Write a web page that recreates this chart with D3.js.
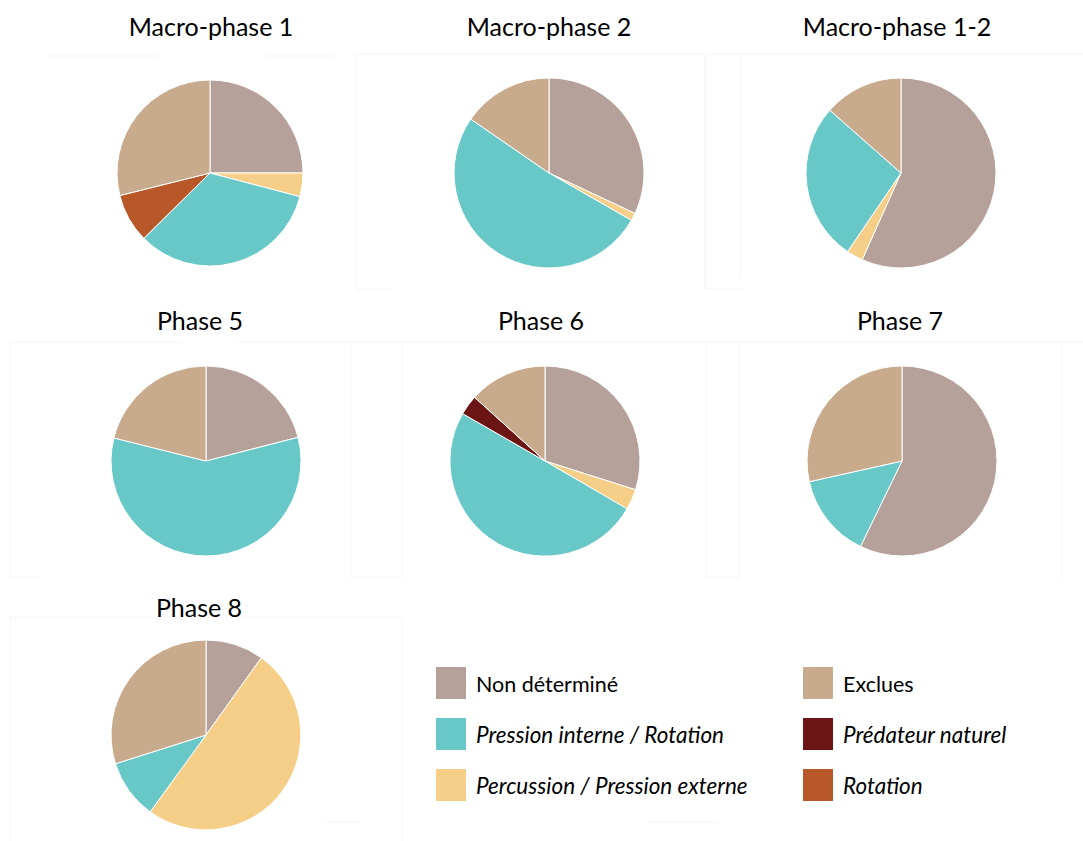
<!DOCTYPE html>
<html>
<head>
<meta charset="utf-8">
<script src="https://cdn.jsdelivr.net/npm/d3@7"></script>
<style>
  html, body { margin: 0; padding: 0; background: #ffffff; }
  svg { display: block; }
</style>
</head>
<body>
<svg id="chart" width="1083" height="841"></svg>
<script>
// ---- Data ----
const categories = ["Non déterminé", "Percussion / Pression externe", "Pression interne / Rotation", "Rotation", "Prédateur naturel", "Exclues"];
const colors = ["#b5a09a", "#f5cf87", "#68c8c8", "#b85828", "#6b1515", "#c8ab8c"];
const chartTitles = ["Macro-phase 1", "Macro-phase 2", "Macro-phase 1-2", "Phase 5", "Phase 6", "Phase 7", "Phase 8"];
// values (%) in category order
const macro1  = [25.0, 4.1, 33.5, 8.5, 0.0, 28.9];
const macro2  = [32.0, 1.3, 51.3, 0.0, 0.0, 15.4];
const macro12 = [56.7, 2.8, 27.0, 0.0, 0.0, 13.5];
const phase5  = [21.0, 0.0, 57.9, 0.0, 0.0, 21.1];
const phase6  = [29.9, 3.5, 49.9, 0.0, 3.4, 13.3];
const phase7  = [57.2, 0.0, 14.3, 0.0, 0.0, 28.5];
const phase8  = [9.9, 50.1, 10.1, 0.0, 0.0, 29.9];
const seriesValues = [macro1, macro2, macro12, phase5, phase6, phase7, phase8];
// legend order (two columns)
const legendLeft  = ["Non déterminé", "Pression interne / Rotation", "Percussion / Pression externe"];
const legendRight = ["Exclues", "Prédateur naturel", "Rotation"];
const italicLabels = ["Pression interne / Rotation", "Percussion / Pression externe", "Prédateur naturel", "Rotation"];

// ---- Layout ----
const layout = [
  {cx: 210, cy: 173, r: 93,  tx: 211, ty: 36},
  {cx: 549, cy: 173, r: 95,  tx: 549, ty: 36},
  {cx: 901, cy: 173, r: 95,  tx: 897, ty: 36},
  {cx: 206, cy: 461, r: 95,  tx: 200, ty: 330},
  {cx: 545, cy: 461, r: 95,  tx: 541, ty: 330},
  {cx: 902, cy: 461, r: 95,  tx: 900, ty: 330},
  {cx: 206, cy: 735, r: 95,  tx: 199, ty: 617}
];

const svg = d3.select("#chart");
const color = d3.scaleOrdinal().domain(categories).range(colors);
const fontFamily = "Lato, 'Open Sans', sans-serif";

// faint frame lines (artifacts in the original)
const frames = [
  [47, 56, 158, 56], [265, 56, 335, 56], [356, 54, 705, 54], [356, 54, 356, 289], [356, 289, 389, 289],
  [705, 54, 705, 289], [706, 54, 1083, 54], [706, 54, 706, 289], [741, 54, 741, 277], [706, 289, 741, 289],
  [10, 342, 182, 342], [238, 342, 1083, 342], [10, 342, 10, 577], [10, 577, 40, 577], [351, 342, 351, 577],
  [351, 577, 402, 577], [402, 342, 402, 577], [706, 342, 706, 577], [739, 342, 739, 577], [706, 577, 739, 577], [1062, 342, 1062, 577],
  [10, 617, 402, 617], [10, 617, 10, 841], [402, 617, 402, 841], [325, 822, 360, 822], [648, 822, 718, 822]
];
svg.append("g").selectAll("line").data(frames).join("line")
  .attr("x1", d => d[0]).attr("y1", d => d[1]).attr("x2", d => d[2]).attr("y2", d => d[3])
  .attr("stroke", "#f5f5f5").attr("stroke-width", 1);

const pie = d3.pie().sort(null).value(d => d.value);

seriesValues.forEach((vals, i) => {
  const L = layout[i];
  const data = categories.map((c, k) => ({cat: c, value: vals[k]})).filter(d => d.value > 0);
  const arc = d3.arc().innerRadius(0).outerRadius(L.r);
  const g = svg.append("g").attr("transform", `translate(${L.cx},${L.cy})`);
  g.selectAll("path").data(pie(data)).join("path")
    .attr("d", arc)
    .attr("fill", d => color(d.data.cat))
    .attr("stroke", "#ffffff")
    .attr("stroke-width", 1);
  svg.append("text")
    .attr("x", L.tx).attr("y", L.ty)
    .attr("text-anchor", "middle")
    .attr("font-family", fontFamily)
    .attr("font-size", 25)
    .attr("fill", "#000")
    .text(chartTitles[i]);
});

// ---- Legend ----
const legendCols = [{items: legendLeft, x: 436}, {items: legendRight, x: 803}];
const rowY = d3.scalePoint().domain([0, 1, 2]).range([667, 769]);
legendCols.forEach(col => {
  const lg = svg.append("g");
  col.items.forEach((name, j) => {
    lg.append("rect")
      .attr("x", col.x).attr("y", rowY(j))
      .attr("width", 30).attr("height", 32)
      .attr("fill", color(name));
    const it = italicLabels.includes(name);
    lg.append("text")
      .attr("x", col.x + 40).attr("y", rowY(j) + 25)
      .attr("font-family", fontFamily)
      .attr("font-size", it ? 22.5 : 21.5)
      .attr("font-style", it ? "italic" : "normal")
      .attr("fill", "#000")
      .text(name);
  });
});
</script>
</body>
</html>
